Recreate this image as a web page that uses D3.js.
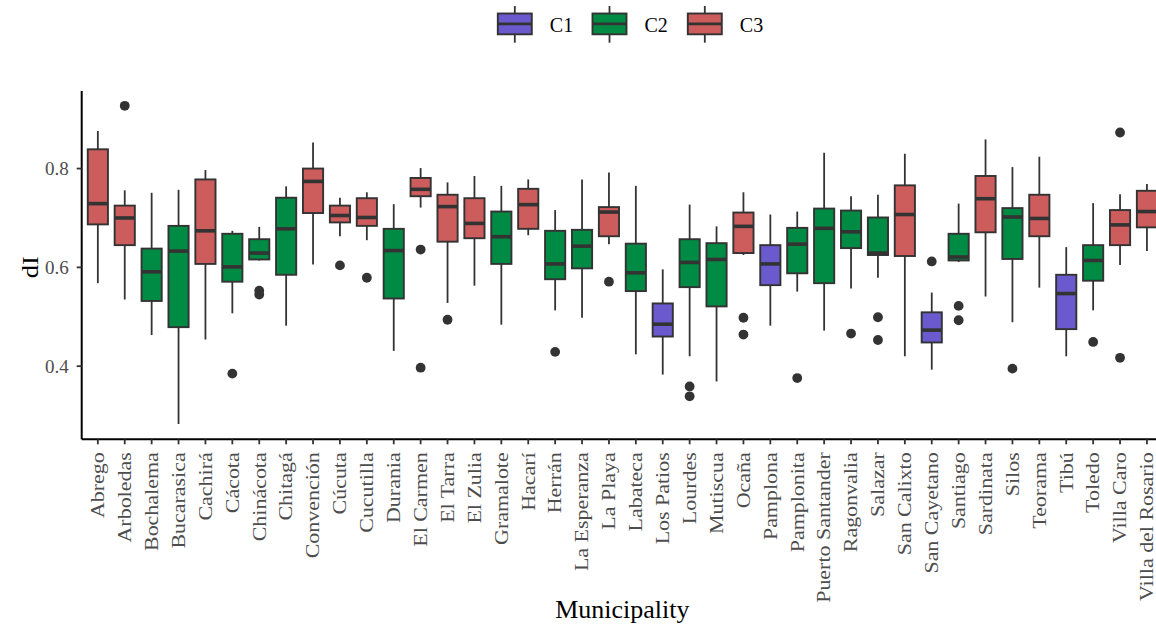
<!DOCTYPE html>
<html>
<head>
<meta charset="utf-8">
<script src="https://cdn.jsdelivr.net/npm/d3@7"></script>
<style>
  body { margin: 0; background: #fff; }
  svg { display: block; font-family: "Liberation Serif", "DejaVu Serif", serif; }
</style>
</head>
<body>
<div id="chart"></div>
<script>
// ── Data ──
const municipalities = [
  "Abrego", "Arboledas", "Bochalema", "Bucarasica", "Cachirá", "Cácota", "Chinácota", "Chitagá",
  "Convención", "Cúcuta", "Cucutilla", "Durania", "El Carmen", "El Tarra", "El Zulia", "Gramalote",
  "Hacarí", "Herrán", "La Esperanza", "La Playa", "Labateca", "Los Patios", "Lourdes", "Mutiscua",
  "Ocaña", "Pamplona", "Pamplonita", "Puerto Santander", "Ragonvalia", "Salazar", "San Calixto",
  "San Cayetano", "Santiago", "Sardinata", "Silos", "Teorama", "Tibú", "Toledo", "Villa Caro",
  "Villa del Rosario"
];
const clusters = [
  "C3", "C3", "C2", "C2", "C3", "C2", "C2", "C2",
  "C3", "C3", "C3", "C2", "C3", "C3", "C3", "C2",
  "C3", "C2", "C2", "C3", "C2", "C1", "C2", "C2",
  "C3", "C1", "C2", "C2", "C2", "C2", "C3",
  "C1", "C2", "C3", "C2", "C3", "C1", "C2", "C3",
  "C3"
];
const whiskerLow  = [0.568, 0.535, 0.463, 0.283, 0.454, 0.507, 0.614, 0.482, 0.606, 0.663, 0.655, 0.431, 0.721, 0.528, 0.563, 0.484, 0.665, 0.513, 0.498, 0.647, 0.424, 0.383, 0.420, 0.369, 0.625, 0.482, 0.551, 0.472, 0.557, 0.579, 0.420, 0.393, 0.611, 0.541, 0.489, 0.559, 0.420, 0.513, 0.605, 0.633];
const q1          = [0.687, 0.645, 0.532, 0.479, 0.607, 0.571, 0.616, 0.585, 0.710, 0.691, 0.684, 0.537, 0.744, 0.652, 0.659, 0.607, 0.678, 0.576, 0.598, 0.663, 0.552, 0.460, 0.560, 0.521, 0.629, 0.564, 0.588, 0.568, 0.639, 0.625, 0.623, 0.448, 0.614, 0.671, 0.617, 0.663, 0.475, 0.573, 0.645, 0.681];
const medians     = [0.729, 0.700, 0.591, 0.633, 0.674, 0.601, 0.629, 0.678, 0.774, 0.705, 0.701, 0.634, 0.758, 0.723, 0.689, 0.662, 0.727, 0.607, 0.643, 0.712, 0.589, 0.485, 0.610, 0.616, 0.683, 0.607, 0.647, 0.679, 0.672, 0.629, 0.707, 0.473, 0.621, 0.739, 0.702, 0.699, 0.547, 0.614, 0.686, 0.713];
const q3          = [0.839, 0.725, 0.638, 0.684, 0.778, 0.668, 0.657, 0.741, 0.800, 0.725, 0.740, 0.678, 0.781, 0.747, 0.740, 0.713, 0.759, 0.674, 0.676, 0.722, 0.648, 0.527, 0.657, 0.649, 0.711, 0.645, 0.680, 0.719, 0.715, 0.701, 0.766, 0.509, 0.668, 0.785, 0.720, 0.747, 0.585, 0.645, 0.716, 0.755];
const whiskerHigh = [0.876, 0.756, 0.751, 0.757, 0.797, 0.674, 0.682, 0.764, 0.853, 0.741, 0.752, 0.728, 0.801, 0.772, 0.785, 0.765, 0.778, 0.716, 0.778, 0.792, 0.765, 0.596, 0.727, 0.683, 0.752, 0.707, 0.713, 0.832, 0.744, 0.747, 0.830, 0.549, 0.729, 0.859, 0.803, 0.824, 0.641, 0.730, 0.748, 0.769];
const outliers = [
  ["Arboledas", 0.927], ["Cácota", 0.385], ["Chinácota", 0.553], ["Chinácota", 0.545],
  ["Cúcuta", 0.604], ["Cucutilla", 0.579], ["El Carmen", 0.636], ["El Carmen", 0.397],
  ["El Tarra", 0.494], ["Herrán", 0.429], ["La Playa", 0.571], ["Lourdes", 0.359],
  ["Lourdes", 0.339], ["Ocaña", 0.498], ["Ocaña", 0.464], ["Pamplonita", 0.376],
  ["Ragonvalia", 0.466], ["Salazar", 0.499], ["Salazar", 0.453], ["San Cayetano", 0.612],
  ["Santiago", 0.522], ["Santiago", 0.493], ["Silos", 0.395], ["Toledo", 0.449],
  ["Villa Caro", 0.873], ["Villa Caro", 0.417]
];
const clusterNames  = ["C1", "C2", "C3"];
const clusterColors = ["#6A5ACD", "#008B45", "#CD5C5C"];
const yTicks = [0.4, 0.6, 0.8];

// ── Layout ──
const W = 1156, H = 624;
const LEFT = 81.7, TOP = 91, BOTTOM = 439.3;
const RIGHT = LEFT + 40.2 * 26.9;   // panel runs past the crop on the right
const INK = "#333333";

const svg = d3.select("#chart").append("svg")
  .attr("width", W).attr("height", H);

const x = d3.scalePoint()
  .domain(municipalities)
  .range([LEFT, RIGHT])
  .padding(0.6);

const y = d3.scaleLinear()
  .domain([0.252, 0.957])
  .range([BOTTOM, TOP]);

const color = d3.scaleOrdinal().domain(clusterNames).range(clusterColors);

const boxW = x.step() * 0.75;

const boxes = municipalities.map((m, i) => ({
  name: m, cluster: clusters[i],
  lo: whiskerLow[i], q1: q1[i], med: medians[i], q3: q3[i], hi: whiskerHigh[i]
}));

// ── Boxes ──
const plot = svg.append("g");

boxes.forEach(b => {
  const cx = x(b.name);
  const g = plot.append("g");
  g.append("line")
    .attr("x1", cx).attr("x2", cx)
    .attr("y1", y(b.hi)).attr("y2", y(b.q3))
    .attr("stroke", INK).attr("stroke-width", 1.8);
  g.append("line")
    .attr("x1", cx).attr("x2", cx)
    .attr("y1", y(b.q1)).attr("y2", y(b.lo))
    .attr("stroke", INK).attr("stroke-width", 1.8);
  g.append("rect")
    .attr("x", cx - boxW / 2).attr("width", boxW)
    .attr("y", y(b.q3)).attr("height", y(b.q1) - y(b.q3))
    .attr("fill", color(b.cluster))
    .attr("stroke", INK).attr("stroke-width", 1.9);
  g.append("line")
    .attr("x1", cx - boxW / 2).attr("x2", cx + boxW / 2)
    .attr("y1", y(b.med)).attr("y2", y(b.med))
    .attr("stroke", INK).attr("stroke-width", 3.6);
});

plot.selectAll("circle.out")
  .data(outliers)
  .join("circle")
  .attr("class", "out")
  .attr("cx", d => x(d[0]))
  .attr("cy", d => y(d[1]))
  .attr("r", 4.9)
  .attr("fill", INK);

// ── Axes ──
svg.append("line")
  .attr("x1", LEFT).attr("x2", LEFT)
  .attr("y1", TOP).attr("y2", BOTTOM)
  .attr("stroke", "#000").attr("stroke-width", 2);
svg.append("line")
  .attr("x1", LEFT).attr("x2", W)
  .attr("y1", BOTTOM).attr("y2", BOTTOM)
  .attr("stroke", "#000").attr("stroke-width", 2);

yTicks.forEach(v => {
  svg.append("line")
    .attr("x1", LEFT - 5).attr("x2", LEFT)
    .attr("y1", y(v)).attr("y2", y(v))
    .attr("stroke", INK).attr("stroke-width", 1.8);
  svg.append("text")
    .attr("x", LEFT - 13).attr("y", y(v))
    .attr("dy", "0.35em")
    .attr("text-anchor", "end")
    .style("font-size", "19px")
    .style("fill", "#4D4D4D")
    .text(v.toFixed(1));
});

municipalities.forEach(m => {
  const px = x(m);
  svg.append("line")
    .attr("x1", px).attr("x2", px)
    .attr("y1", BOTTOM).attr("y2", BOTTOM + 5)
    .attr("stroke", INK).attr("stroke-width", 1.8);
  // the reference is stretched vertically, so stretch the rotated labels along their length
  svg.append("text")
    .attr("transform", `translate(${px},${BOTTOM + 13}) rotate(-90) scale(1.22,1)`)
    .attr("dy", "0.35em")
    .attr("text-anchor", "end")
    .style("font-size", "18px")
    .style("fill", "#4D4D4D")
    .text(m);
});

// Axis titles
svg.append("text")
  .attr("transform", `translate(38,${(TOP + BOTTOM) / 2 + 2}) rotate(-90) scale(1.15,1)`)
  .attr("text-anchor", "middle")
  .style("font-size", "23px")
  .style("fill", "#000")
  .text("dI");

svg.append("text")
  .attr("x", (LEFT + RIGHT) / 2)
  .attr("y", 618)
  .attr("text-anchor", "middle")
  .style("font-size", "26px")
  .style("fill", "#000")
  .text("Municipality");

// ── Legend ──
const legendX = [514.8, 609.5, 704.8];
const legend = svg.append("g");
clusterNames.forEach((c, i) => {
  const cx = legendX[i];
  const g = legend.append("g");
  g.append("line")
    .attr("x1", cx).attr("x2", cx).attr("y1", 6).attr("y2", 42.7)
    .attr("stroke", INK).attr("stroke-width", 1.8);
  g.append("rect")
    .attr("x", cx - 17).attr("width", 34)
    .attr("y", 13.5).attr("height", 20.8)
    .attr("fill", color(c))
    .attr("stroke", INK).attr("stroke-width", 1.9);
  g.append("line")
    .attr("x1", cx - 17).attr("x2", cx + 17).attr("y1", 23.9).attr("y2", 23.9)
    .attr("stroke", INK).attr("stroke-width", 2.6);
  g.append("text")
    .attr("x", cx + 35).attr("y", 25)
    .attr("dy", "0.35em")
    .style("font-size", "20px")
    .style("fill", "#000")
    .text(c);
});
</script>
</body>
</html>
